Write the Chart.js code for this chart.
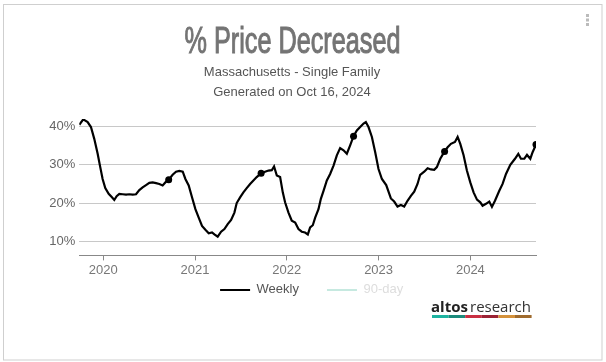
<!DOCTYPE html>
<html>
<head>
<meta charset="utf-8">
<script src="https://cdn.jsdelivr.net/npm/chart.js@4.4.1/dist/chart.umd.min.js"></script>
<style>
  html, body { margin: 0; padding: 0; background: #fff; }
  #wrap { position: relative; width: 606px; height: 362px; }
</style>
</head>
<body>
<div id="wrap"><canvas id="chart"></canvas></div>
<script>
// % Price Decreased - Massachusetts single family, weekly
const weeks = [
  2019.739, 2019.782, 2019.830, 2019.866, 2019.902, 2019.939, 2019.964, 2019.993,
  2020.022, 2020.059, 2020.095, 2020.120, 2020.146, 2020.175, 2020.211, 2020.248,
  2020.284, 2020.320, 2020.357, 2020.393, 2020.429, 2020.466, 2020.502, 2020.538,
  2020.575, 2020.611, 2020.647, 2020.684, 2020.713, 2020.756, 2020.793, 2020.829,
  2020.866, 2020.895, 2020.931, 2020.967, 2021.004, 2021.040, 2021.076, 2021.113,
  2021.149, 2021.185, 2021.211, 2021.247, 2021.284, 2021.320, 2021.356, 2021.393,
  2021.429, 2021.454, 2021.491, 2021.527, 2021.563, 2021.600, 2021.636, 2021.672,
  2021.720, 2021.763, 2021.800, 2021.836, 2021.861, 2021.891, 2021.927, 2021.956,
  2021.981, 2022.018, 2022.054, 2022.091, 2022.127, 2022.163, 2022.199, 2022.229,
  2022.254, 2022.283, 2022.309, 2022.345, 2022.371, 2022.400, 2022.436, 2022.472,
  2022.509, 2022.545, 2022.581, 2022.618, 2022.654, 2022.690, 2022.727, 2022.763,
  2022.799, 2022.836, 2022.861, 2022.890, 2022.927, 2022.963, 2022.999, 2023.036,
  2023.083, 2023.134, 2023.170, 2023.206, 2023.243, 2023.279, 2023.315, 2023.352,
  2023.388, 2023.424, 2023.453, 2023.497, 2023.534, 2023.570, 2023.606, 2023.635,
  2023.672, 2023.719, 2023.752, 2023.788, 2023.832, 2023.861, 2023.890, 2023.926,
  2023.962, 2023.999, 2024.035, 2024.072, 2024.108, 2024.133, 2024.170, 2024.206,
  2024.235, 2024.268, 2024.315, 2024.351, 2024.388, 2024.435, 2024.486, 2024.522,
  2024.551, 2024.588, 2024.617, 2024.653, 2024.678, 2024.715
];
const weeklyPct = [
  40.5, 41.9, 41.2, 39.9, 36.8, 32.9, 29.8, 26.3,
  23.9, 22.4, 21.5, 20.8, 21.8, 22.4, 22.3, 22.2,
  22.3, 22.2, 22.3, 23.4, 24.1, 24.7, 25.3, 25.4,
  25.2, 25.0, 24.6, 25.6, 26.1, 27.4, 28.2, 28.4,
  28.2, 26.3, 24.6, 21.5, 18.4, 16.2, 14.0, 13.0,
  12.1, 12.3, 11.8, 11.2, 12.5, 13.2, 14.5, 15.6,
  17.5, 20.0, 21.5, 22.8, 23.9, 25.0, 25.9, 26.8,
  27.8, 28.2, 28.5, 28.6, 29.6, 27.2, 26.8, 22.8,
  20.2, 17.5, 15.4, 14.9, 13.2, 12.5, 12.3, 11.8,
  13.6, 14.2, 16.2, 18.4, 21.1, 23.2, 25.9, 27.6,
  29.8, 32.5, 34.4, 33.8, 32.9, 35.1, 37.5, 39.0,
  39.9, 40.8, 41.2, 39.9, 37.3, 33.3, 28.9, 26.3,
  24.7, 21.2, 20.4, 19.1, 19.5, 19.1, 20.6, 21.9,
  23.0, 25.0, 27.4, 28.2, 29.1, 28.8, 28.7, 29.4,
  31.6, 33.5, 34.6, 35.5, 36.0, 37.3, 35.5, 32.5,
  28.5, 25.4, 22.8, 20.9, 20.2, 19.3, 19.8, 20.4,
  19.0, 20.6, 23.2, 25.0, 27.6, 30.0, 31.6, 32.9,
  31.6, 31.6, 32.6, 31.6, 33.3, 35.3
];
// same week each year gets a dot
const markerWeeks = [2020.713, 2021.720, 2022.727, 2023.719, 2024.715];
const ninetyDayPct = []; // series is switched off in the original
const yearTicks = [2020, 2021, 2022, 2023, 2024];
const pctTicks = [10, 20, 30, 40];

const TITLE = '% Price Decreased';

Chart.defaults.font.family = "'Liberation Sans', Arial, sans-serif";

const extras = {
  id: 'extras',
  afterLayout(chart) {
    // pull the legend up into the gap under the year labels
    const lg = chart.legend;
    lg.top -= 22; lg.bottom -= 22;
    lg.left += 4; lg.right += 4;
  },
  afterDraw(chart) {
    const ctx = chart.ctx;
    ctx.save();
    // frame
    ctx.strokeStyle = '#cfcfcf';
    ctx.lineWidth = 1;
    ctx.strokeRect(3.5, 4.5, 598.5, 355.5);
    // menu dots
    ctx.fillStyle = '#bbb';
    [14, 18.5, 23].forEach(y => ctx.fillRect(586, y, 3, 3));
    // condensed title
    ctx.font = "36px 'Liberation Sans'";
    ctx.fillStyle = '#747474';
    ctx.strokeStyle = '#747474';
    ctx.lineWidth = 1;
    ctx.textAlign = 'center';
    ctx.textBaseline = 'alphabetic';
    const sx = 216 / ctx.measureText(TITLE).width;
    ctx.save();
    ctx.translate(292.5, 53);
    ctx.scale(sx, 1);
    ctx.fillText(TITLE, 0, 0);
    ctx.strokeText(TITLE, 0, 0);
    ctx.restore();
    // logo
    ctx.textAlign = 'left';
    ctx.fillStyle = '#222';
    ctx.font = "bold 15px 'Open Sans'";
    ctx.fillText('altos', 431, 311.5);
    ctx.fillStyle = '#333';
    ctx.font = "15px 'Open Sans'";
    ctx.fillText('research', 470, 311.5);
    const bar = ['#1db3a0', '#1b8a7b', '#c92f42', '#9b2234', '#d4913b', '#9f6b2e'];
    bar.forEach((c, i) => {
      ctx.fillStyle = c;
      ctx.fillRect(432 + i * 16.6, 315, 16.6, 3);
    });
    ctx.restore();
  }
};

new Chart(document.getElementById('chart'), {
  type: 'line',
  data: {
    datasets: [
      {
        label: 'Weekly',
        data: weeks.map((w, i) => ({x: w, y: weeklyPct[i]})),
        borderColor: '#000',
        backgroundColor: '#000',
        borderWidth: 2.2,
        tension: 0,
        pointRadius: c => markerWeeks.includes(weeks[c.dataIndex]) ? 3.5 : 0,
        pointBackgroundColor: '#000',
        pointBorderWidth: 0
      },
      {
        label: '90-day',
        data: ninetyDayPct,
        borderColor: '#c6e9e0',
        backgroundColor: '#c6e9e0',
        borderWidth: 2,
        hidden: true
      }
    ]
  },
  options: {
    responsive: true,
    maintainAspectRatio: false,
    animation: false,
    layout: { padding: { top: 62, left: 48, right: 70, bottom: 33.6 } },
    plugins: {
      title: { display: false },
      subtitle: {
        display: true,
        text: ['Massachusetts - Single Family', 'Generated on Oct 16, 2024'],
        color: '#555',
        font: { size: 13, lineHeight: 20 / 13 },
        padding: { top: 0, bottom: 17 }
      },
      legend: {
        position: 'bottom',
        fullSize: false,
        labels: {
          boxWidth: 30,
          boxHeight: 2,
          padding: 28,
          font: { size: 13 },
          generateLabels(chart) {
            return chart.data.datasets.map((ds, i) => ({
              text: ds.label,
              fillStyle: ds.borderColor,
              strokeStyle: ds.borderColor,
              lineWidth: 0,
              hidden: false,
              fontColor: ds.hidden ? '#ddd' : '#555',
              datasetIndex: i
            }));
          }
        }
      },
      tooltip: { enabled: false }
    },
    scales: {
      x: {
        type: 'linear',
        min: weeks[0],
        max: weeks[weeks.length - 1],
        afterBuildTicks: s => { s.ticks = yearTicks.map(v => ({value: v})); },
        afterFit: s => { s.height = 22; },
        grid: { drawOnChartArea: false, drawTicks: true, tickLength: 5, color: '#888' },
        border: { display: true, color: '#888', width: 1 },
        ticks: { color: '#777', font: { size: 13 }, padding: 2, maxRotation: 0, callback: v => String(v) }
      },
      y: {
        min: 6.3,
        max: 42,
        afterBuildTicks: s => { s.ticks = pctTicks.map(v => ({value: v})); },
        afterFit: s => { s.width = 31.3; },
        grid: { color: '#c8c8c8', drawTicks: false },
        border: { display: false },
        ticks: { color: '#666', font: { size: 13 }, padding: 4, callback: v => v + '%' }
      }
    }
  },
  plugins: [extras]
});
</script>
</body>
</html>
